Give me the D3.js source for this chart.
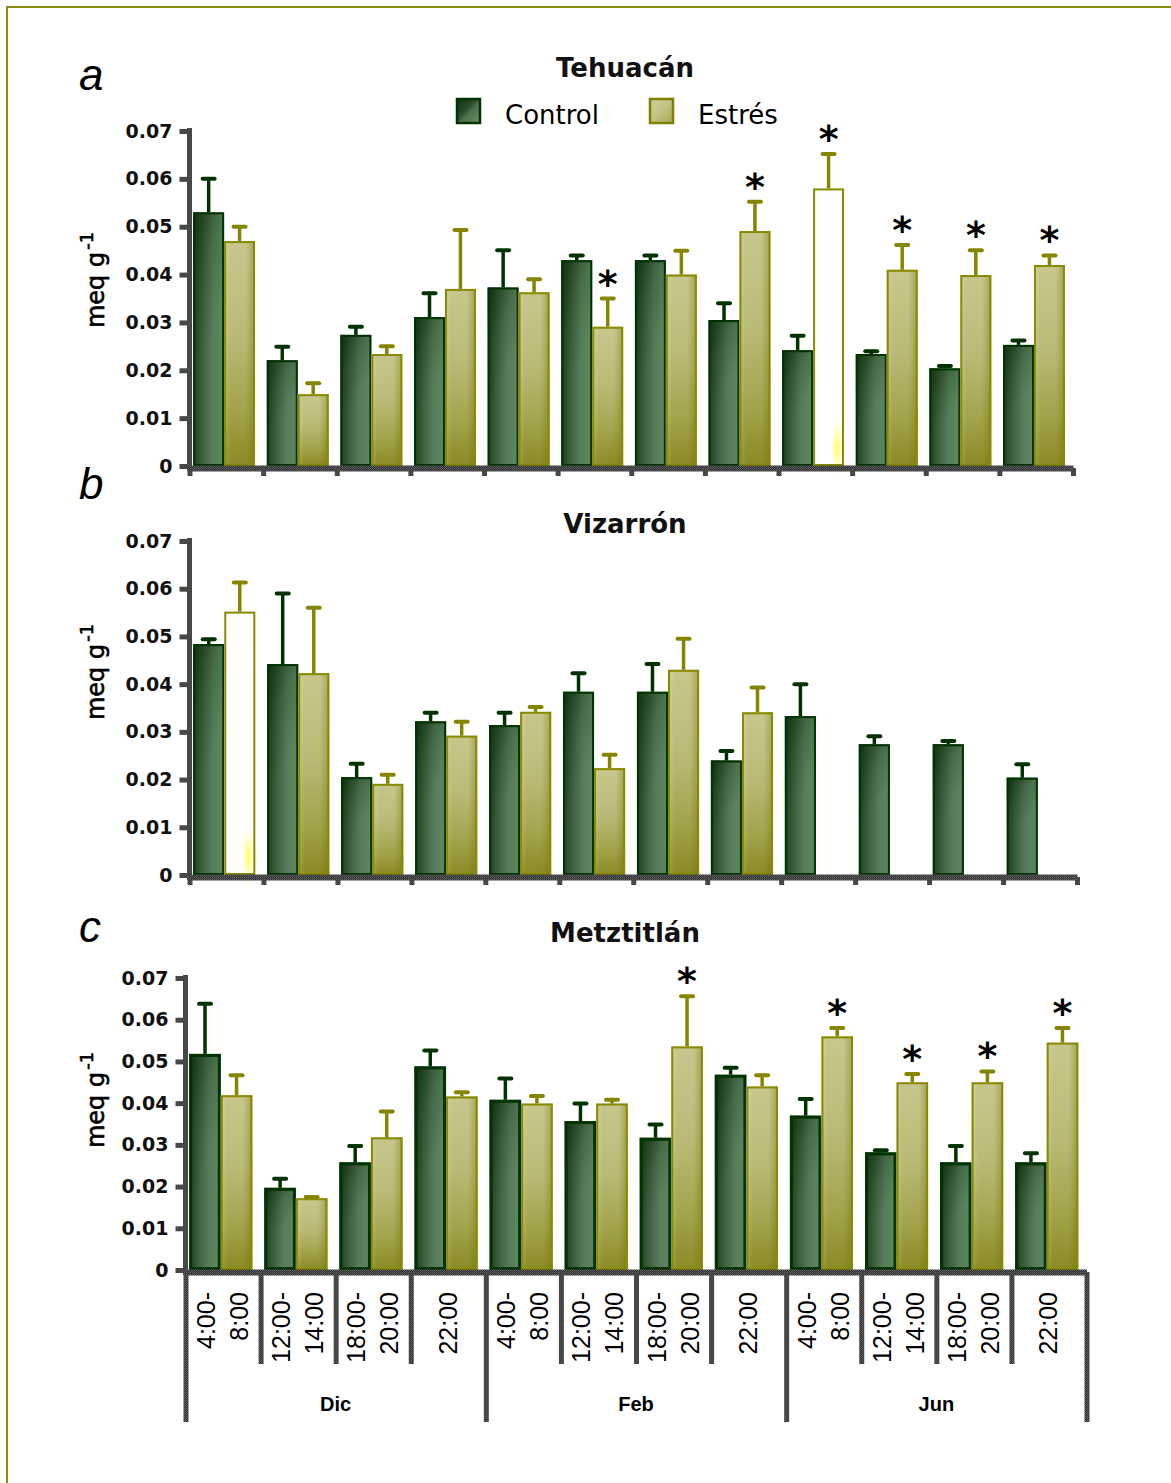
<!DOCTYPE html>
<html>
<head>
<meta charset="utf-8">
<script src="https://cdn.jsdelivr.net/npm/d3@7"></script>
<style>
  body { margin: 0; background: #fff; }
  svg { display: block; }
</style>
</head>
<body>
<svg id="chart" width="1171" height="1483"></svg>
<script>
// ---- data -------------------------------------------------------------
const hourLabels = [["4:00-", "8:00"], ["12:00-", "14:00"], ["18:00-", "20:00"], ["22:00"]];
const monthLabels = ["Dic", "Feb", "Jun"];
const seriesNames = ["Control", "Estrés"];
const yTickValues = [0, 0.01, 0.02, 0.03, 0.04, 0.05, 0.06, 0.07];

// Tehuacán
const tehuacanControl   = [0.0530, 0.0221, 0.0274, 0.0311, 0.0373, 0.0430, 0.0430, 0.0305, 0.0242, 0.0234, 0.0204, 0.0253];
const tehuacanControlSE = [0.0070, 0.0028, 0.0017, 0.0050, 0.0078, 0.0010, 0.0010, 0.0035, 0.0030, 0.0006, 0.0005, 0.0009];
const tehuacanStress    = [0.0470, 0.0150, 0.0234, 0.0370, 0.0363, 0.0291, 0.0400, 0.0491, 0.0580, 0.0410, 0.0399, 0.0420];
const tehuacanStressSE  = [0.0030, 0.0023, 0.0016, 0.0123, 0.0027, 0.0059, 0.0050, 0.0061, 0.0072, 0.0052, 0.0052, 0.0020];
const tehuacanSignif    = [5, 7, 8, 9, 10, 11];

// Vizarrón (no Estrés data for Jun)
const vizarronControl   = [0.0484, 0.0442, 0.0205, 0.0322, 0.0314, 0.0384, 0.0384, 0.0240, 0.0333, 0.0274, 0.0274, 0.0204];
const vizarronControlSE = [0.0010, 0.0148, 0.0028, 0.0018, 0.0026, 0.0039, 0.0058, 0.0020, 0.0067, 0.0017, 0.0007, 0.0028];
const vizarronStress    = [0.0552, 0.0423, 0.0191, 0.0292, 0.0342, 0.0224, 0.0430, 0.0341, null, null, null, null];
const vizarronStressSE  = [0.0061, 0.0137, 0.0019, 0.0029, 0.0010, 0.0028, 0.0065, 0.0052, null, null, null, null];
const vizarronSignif    = [];

// Metztitlán
const metztitlanControl   = [0.0518, 0.0197, 0.0258, 0.0488, 0.0408, 0.0357, 0.0317, 0.0468, 0.0370, 0.0282, 0.0258, 0.0258];
const metztitlanControlSE = [0.0120, 0.0022, 0.0039, 0.0038, 0.0051, 0.0042, 0.0032, 0.0017, 0.0040, 0.0005, 0.0039, 0.0022];
const metztitlanStress    = [0.0419, 0.0172, 0.0318, 0.0416, 0.0399, 0.0399, 0.0536, 0.0440, 0.0560, 0.0450, 0.0450, 0.0545];
const metztitlanStressSE  = [0.0048, 0.0003, 0.0062, 0.0010, 0.0018, 0.0009, 0.0120, 0.0027, 0.0020, 0.0020, 0.0026, 0.0035];
const metztitlanSignif    = [6, 8, 9, 10, 11];

// ---- layout -----------------------------------------------------------
const panels = [
  { letter: "a", title: "Tehuacán", x0: 189.5, x1: 1073, y0: 466, y7: 131, titleY: 77, letterY: 90, labelY: 280,
    control: tehuacanControl, controlSE: tehuacanControlSE, stress: tehuacanStress, stressSE: tehuacanStressSE,
    signif: tehuacanSignif, hollow: [8], controlStroke: 2, legend: true, hours: false },
  { letter: "b", title: "Vizarrón", x0: 189.5, x1: 1077, y0: 875, y7: 541, titleY: 533, letterY: 499, labelY: 672,
    control: vizarronControl, controlSE: vizarronControlSE, stress: vizarronStress, stressSE: vizarronStressSE,
    signif: vizarronSignif, hollow: [0], controlStroke: 2, legend: false, hours: false },
  { letter: "c", title: "Metztitlán", x0: 185.5, x1: 1086.5, y0: 1270, y7: 978, titleY: 942, letterY: 942, labelY: 1100,
    control: metztitlanControl, controlSE: metztitlanControlSE, stress: metztitlanStress, stressSE: metztitlanStressSE,
    signif: metztitlanSignif, hollow: [], controlStroke: 3, legend: false, hours: true }
];

const svg = d3.select("#chart");
const defs = svg.append("defs");

// frame
svg.append("rect").attr("x", 7).attr("y", 7).attr("width", 1200).attr("height", 1520)
  .attr("fill", "none").attr("stroke", "#8c8c14").attr("stroke-width", 2);

// textured axis stroke
const tex = defs.append("pattern").attr("id", "axisTex").attr("patternUnits", "userSpaceOnUse")
  .attr("width", 2).attr("height", 2);
tex.append("rect").attr("width", 2).attr("height", 2).attr("fill", "#2e2e2e");
tex.append("rect").attr("width", 1).attr("height", 1).attr("fill", "#6c6c6c");
tex.append("rect").attr("x", 1).attr("y", 1).attr("width", 1).attr("height", 1).attr("fill", "#555");

function gradient(id, x1, y1, x2, y2, stops) {
  const g = defs.append("linearGradient").attr("id", id)
    .attr("x1", x1).attr("y1", y1).attr("x2", x2).attr("y2", y2);
  stops.forEach(([o, c, a]) => g.append("stop").attr("offset", o).attr("stop-color", c)
    .attr("stop-opacity", a === undefined ? 1 : a));
}
// Control bar fill
gradient("ctlBase", 0, 0, 1, 0, [[0, "#1d3e1d"], [0.28, "#3d5e3e"], [0.62, "#577c59"], [1, "#5f8661"]]);
gradient("ctlShade", 0, 0, 0.35, 1, [[0, "#0a2a0a", 0.65], [0.3, "#0a2a0a", 0.2], [0.6, "#0a2a0a", 0]]);
// Estrés bar fill
gradient("strBase", 0, 0, 0, 1, [[0, "#c7c78d"], [0.42, "#baba77"], [0.75, "#a3a34c"], [1, "#8a8a25"]]);
gradient("strShade", 0, 0, 1, 0, [[0, "#fffff0", 0.18], [0.2, "#fffff0", 0], [0.7, "#6e6e00", 0], [1, "#6e6e00", 0.4]]);
// legend swatches
gradient("ctlSwatch", 0, 0, 1, 1, [[0, "#0c330c"], [0.42, "#2c4c2c"], [0.55, "#4d6e4d"], [1, "#6c906c"]]);
gradient("strSwatch", 0, 0, 1, 1, [[0, "#cfcf9c"], [0.5, "#c2c285"], [1, "#a8a852"]]);
// glow at the foot of hollow bars
const glow = defs.append("radialGradient").attr("id", "glow").attr("cx", 0.5).attr("cy", 0.5).attr("r", 0.5);
glow.append("stop").attr("offset", 0).attr("stop-color", "#ffff40").attr("stop-opacity", 0.9);
glow.append("stop").attr("offset", 1).attr("stop-color", "#ffff80").attr("stop-opacity", 0);

const ctlStroke = "#003300", strStroke = "#8a8a00";
const ctlErr = "#003300", strErr = "#858500";

panels.forEach(p => {
  const g = svg.append("g");
  const y = d3.scaleLinear().domain([0, 0.07]).range([p.y0, p.y7]);
  const xLin = d3.scaleLinear().domain([0, 12]).range([p.x0, p.x1]);
  const xBand = d3.scaleBand().domain(d3.range(12)).range([p.x0, p.x1]);
  const bw = xBand.bandwidth();
  const xSub = d3.scaleBand().domain(seriesNames).range([bw * 0.05, bw * 0.89]);

  // title and panel letter
  g.append("text").attr("x", 625).attr("y", p.titleY).attr("text-anchor", "middle")
    .attr("font-family", "DejaVu Sans").attr("font-weight", "bold").attr("font-size", 26)
    .attr("fill", "#111").text(p.title);
  g.append("text").attr("x", 79).attr("y", p.letterY)
    .attr("font-family", "Liberation Sans").attr("font-style", "italic").attr("font-size", 44)
    .attr("fill", "#000").text(p.letter);

  // y label
  const yl = g.append("text")
    .attr("transform", `translate(104,${p.labelY}) rotate(-90)`)
    .attr("text-anchor", "middle").attr("font-family", "DejaVu Sans")
    .attr("font-size", 24).attr("fill", "#000").attr("stroke", "#000").attr("stroke-width", 0.6);
  yl.append("tspan").text("meq  g");
  yl.append("tspan").attr("dy", -11).attr("dx", 2).attr("font-size", 18).text("-1");

  // bars
  const rows = d3.range(12).flatMap(i => [
    { i, s: "Control", v: p.control[i], se: p.controlSE[i] },
    { i, s: "Estrés", v: p.stress[i], se: p.stressSE[i] }
  ]).filter(d => d.v !== null);

  rows.forEach(d => {
    const bx = xBand(d.i) + xSub(d.s);
    const w = xSub.bandwidth();
    const top = y(d.v), h = y(0) - y(d.v);
    const isCtl = d.s === "Control";
    const hollow = !isCtl && p.hollow.includes(d.i);
    if (hollow) {
      g.append("rect").attr("x", bx).attr("y", top).attr("width", w).attr("height", h).attr("fill", "#fff");
      g.append("ellipse").attr("cx", bx + w - 7).attr("cy", y(0) - 18).attr("rx", 6).attr("ry", 30)
        .attr("fill", "url(#glow)");
    } else {
      g.append("rect").attr("x", bx).attr("y", top).attr("width", w).attr("height", h)
        .attr("fill", isCtl ? "url(#ctlBase)" : "url(#strBase)");
      g.append("rect").attr("x", bx).attr("y", top).attr("width", w).attr("height", h)
        .attr("fill", isCtl ? "url(#ctlShade)" : "url(#strShade)");
    }
    const sw = isCtl ? p.controlStroke : 2;
    g.append("rect").attr("x", bx + sw / 2).attr("y", top + sw / 2)
      .attr("width", w - sw).attr("height", Math.max(0, h - sw))
      .attr("fill", "none").attr("stroke", isCtl ? ctlStroke : strStroke).attr("stroke-width", sw);

    // error bar
    const cx = bx + w / 2, et = y(d.v + d.se);
    const col = isCtl ? ctlErr : strErr;
    g.append("line").attr("x1", cx).attr("x2", cx).attr("y1", top).attr("y2", et)
      .attr("stroke", col).attr("stroke-width", 3.5);
    g.append("line").attr("x1", cx - 6).attr("x2", cx + 6).attr("y1", et).attr("y2", et)
      .attr("stroke", col).attr("stroke-width", 4).attr("stroke-linecap", "round");

    if (!isCtl && p.signif.includes(d.i)) {
      g.append("text").attr("x", cx).attr("y", et - 2).attr("text-anchor", "middle")
        .attr("font-family", "DejaVu Sans").attr("font-weight", "bold").attr("font-size", 38)
        .attr("fill", "#000").text("*");
    }
  });

  // y axis
  const yAxis = g.append("g").attr("transform", `translate(${p.x0},0)`)
    .call(d3.axisLeft(y).tickValues(yTickValues).tickSize(10).tickSizeOuter(0).tickPadding(7)
      .tickFormat(v => v === 0 ? "0" : v.toFixed(2)));
  yAxis.select(".domain").remove();
  yAxis.append("line").attr("x1", 0).attr("x2", 0).attr("y1", y(0.07) - 3).attr("y2", p.y0 + 5)
    .attr("stroke", "url(#axisTex)").attr("stroke-width", 5);
  yAxis.selectAll(".tick line").attr("stroke", "url(#axisTex)").attr("stroke-width", 5);
  yAxis.selectAll(".tick text").attr("font-family", "DejaVu Sans").attr("font-weight", "bold")
    .attr("font-size", 19).attr("fill", "#111");

  // x axis
  const axY = p.y0 + 2;
  const xAxis = g.append("g").attr("transform", `translate(0,${axY})`)
    .call(d3.axisBottom(xLin).tickValues(d3.range(13)).tickSize(8).tickSizeOuter(0).tickFormat(""));
  xAxis.select(".domain").attr("stroke", "url(#axisTex)").attr("stroke-width", 6);
  xAxis.selectAll(".tick line").attr("stroke", "url(#axisTex)").attr("stroke-width", 5)
    .attr("y2", k => p.hours ? (k % 4 === 0 ? 1422 - axY : 1364 - axY) : 8);

  // legend
  if (p.legend) {
    const lg = g.append("g");
    [["Control", 457, 505, "url(#ctlSwatch)", ctlStroke], ["Estrés", 650, 698, "url(#strSwatch)", "#808000"]]
      .forEach(([name, sx, tx, fill, stroke]) => {
        lg.append("rect").attr("x", sx).attr("y", 99).attr("width", 23).attr("height", 24)
          .attr("fill", fill).attr("stroke", stroke).attr("stroke-width", 2.5);
        lg.append("text").attr("x", tx).attr("y", 124).attr("font-family", "DejaVu Sans")
          .attr("font-size", 26).attr("fill", "#000").text(name);
      });
  }

  // hour and month labels
  if (p.hours) {
    d3.range(12).forEach(i => {
      const lines = hourLabels[i % 4];
      const cx = xBand(i) + bw / 2;
      const bases = lines.length === 2 ? [cx - 8, cx + 25] : [cx + 8.5];
      lines.forEach((t, k) => {
        g.append("text").attr("transform", `translate(${bases[k]},1292) rotate(-90)`)
          .attr("text-anchor", "end").attr("font-family", "Liberation Sans").attr("font-size", 25)
          .attr("fill", "#000").text(t);
      });
    });
    monthLabels.forEach((m, j) => {
      g.append("text").attr("x", (xLin(j * 4) + xLin(j * 4 + 4)) / 2).attr("y", 1411)
        .attr("text-anchor", "middle").attr("font-family", "Liberation Sans").attr("font-weight", "bold")
        .attr("font-size", 20).attr("fill", "#000").text(m);
    });
  }
});
</script>
</body>
</html>
